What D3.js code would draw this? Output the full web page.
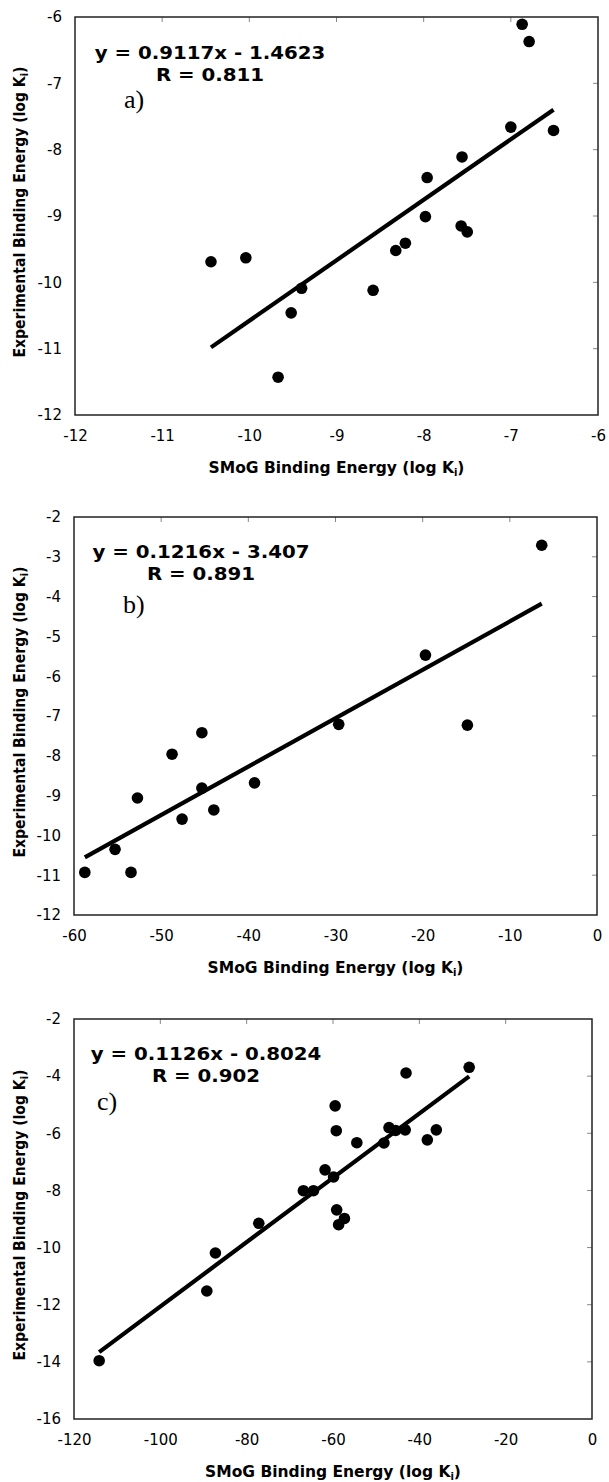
<!DOCTYPE html>
<meta charset="utf-8">
<style>
  body { margin: 0; background: #fff; }
  text { font-family: "DejaVu Sans", Verdana, sans-serif; fill: #000; }
  .lbl { font-size: 15px; }
  .title { font-size: 15.5px; font-weight: bold; }
  .ytitle { font-size: 14px; font-weight: bold; }
  .eq { font-size: 18px; font-weight: bold; }
  .tag { font-family: "Liberation Serif", "Times New Roman", serif; font-size: 26px; }
  .frame { fill: none; stroke: #222; stroke-width: 1.5px; }
  .fit { stroke: #000; stroke-width: 4.2px; }
  .mirror { stroke: #888; stroke-width: 1px; }
</style>
<body>
<script src="https://d3js.org/d3.v7.min.js"></script>
<script>

// a) values
var aX = [-6.87, -6.79, -7.00, -6.51, -7.56, -7.96, -7.98, -7.57, -7.50, -8.21, -8.32, -10.44, -10.04, -9.40, -9.52, -8.58, -9.67];
var aY = [-6.11, -6.37, -7.66, -7.71, -8.11, -8.42, -9.01, -9.15, -9.24, -9.41, -9.52, -9.69, -9.63, -10.09, -10.46, -10.12, -11.43];
var aXTicks = [-12, -11, -10, -9, -8, -7, -6];
var aYTicks = [-12, -11, -10, -9, -8, -7, -6];
var aFit = [0.9117, -1.4623];

// b)
var bX = [-6.34, -19.68, -29.63, -14.87, -45.33, -48.75, -52.72, -45.33, -39.29, -43.96, -47.60, -55.29, -58.76, -53.46];
var bY = [-2.71, -5.47, -7.21, -7.23, -7.42, -7.96, -9.06, -8.81, -8.68, -9.36, -9.59, -10.35, -10.93, -10.93];
var bXTicks = [-60, -50, -40, -30, -20, -10, 0];
var bYTicks = [-12, -11, -10, -9, -8, -7, -6, -5, -4, -3, -2];
var bFit = [0.1216, -3.407];

// c)
var cX = [-28.45, -43.08, -59.50, -59.24, -54.48, -47.02, -45.50, -43.27, -48.20, -38.15, -36.07, -61.84, -59.87, -66.86, -64.52, -59.15, -57.35, -58.70, -77.19, -87.24, -89.23, -114.17];
var cY = [-3.69, -3.89, -5.04, -5.91, -6.33, -5.80, -5.90, -5.88, -6.34, -6.23, -5.88, -7.28, -7.53, -8.01, -8.01, -8.68, -8.98, -9.20, -9.15, -10.19, -11.52, -13.96];
var cXTicks = [-120, -100, -80, -60, -40, -20, 0];
var cYTicks = [-16, -14, -12, -10, -8, -6, -4, -2];
var cFit = [0.1126, -0.8024];

var eqText = ["y = 0.9117x - 1.4623", "y = 0.1216x - 3.407", "y = 0.1126x - 0.8024"];
var rText = ["R = 0.811", "R = 0.891", "R = 0.902"];
var tags = ["a)", "b)", "c)"];

var panels = [
  {xs: aX, ys: aY, xt: aXTicks, yt: aYTicks, fit: aFit, box: [75, 598, 17, 415], eq: [210, 42, 64], tag: [124, 91]},
  {xs: bX, ys: bY, xt: bXTicks, yt: bYTicks, fit: bFit, box: [74, 597, 517, 915], eq: [201, 41, 63], tag: [123, 96]},
  {xs: cX, ys: cY, xt: cXTicks, yt: cYTicks, fit: cFit, box: [74, 592, 1019, 1419], eq: [206, 41, 63], tag: [97, 91]}
];

// plain hyphen for negatives, like the original
var fmt = function(d) { return String(d); };

var svg = d3.select("body").append("svg")
    .attr("width", 609)
    .attr("height", 1482);

function addKi(sel, label) {
  sel.append("tspan").text(label + " (log K");
  sel.append("tspan").attr("font-size", "10px").attr("dy", 3).text("i");
  sel.append("tspan").attr("dy", -3).text(")");
}

panels.forEach(function(p, k) {
  var l = p.box[0], r = p.box[1], t = p.box[2], b = p.box[3];
  var x = d3.scaleLinear().domain(d3.extent(p.xt)).range([l, r]);
  var y = d3.scaleLinear().domain(d3.extent(p.yt)).range([b, t]);
  var g = svg.append("g");

  // tick labels (no tick marks on left / bottom)
  g.append("g")
      .attr("transform", "translate(0," + (b + 15) + ")")
      .call(d3.axisBottom(x).tickValues(p.xt).tickSize(0).tickPadding(0).tickFormat(fmt))
      .call(function(a) { a.select(".domain").remove(); })
      .selectAll("text").attr("class", "lbl").attr("font-size", null).attr("font-family", null);

  g.append("g")
      .attr("transform", "translate(" + (l - 13) + ",0)")
      .call(d3.axisLeft(y).tickValues(p.yt).tickSize(0).tickPadding(0).tickFormat(fmt))
      .call(function(a) { a.select(".domain").remove(); })
      .selectAll("text").attr("class", "lbl").attr("font-size", null).attr("font-family", null);

  // inner mirror ticks on top and right edges
  g.selectAll(".mt").data(p.xt.slice(1, -1)).enter().append("line")
      .attr("class", "mirror")
      .attr("x1", function(d) { return x(d); }).attr("x2", function(d) { return x(d); })
      .attr("y1", t).attr("y2", t + 5);
  g.selectAll(".mr").data(p.yt.slice(1, -1)).enter().append("line")
      .attr("class", "mirror")
      .attr("x1", r).attr("x2", r - 5)
      .attr("y1", function(d) { return y(d); }).attr("y2", function(d) { return y(d); });

  g.append("rect").attr("class", "frame")
      .attr("x", l).attr("y", t).attr("width", r - l).attr("height", b - t);

  // trend line over data range
  var ext = d3.extent(p.xs);
  g.append("line").attr("class", "fit")
      .attr("x1", x(ext[0])).attr("y1", y(p.fit[0] * ext[0] + p.fit[1]))
      .attr("x2", x(ext[1])).attr("y2", y(p.fit[0] * ext[1] + p.fit[1]));

  g.selectAll("circle").data(p.xs).enter().append("circle")
      .attr("cx", function(d) { return x(d); })
      .attr("cy", function(d, i) { return y(p.ys[i]); })
      .attr("r", 5.8)
      .attr("fill", "#000");

  // equation text is a bit wide in the source figure
  g.append("text").attr("class", "eq")
      .attr("transform", "translate(" + p.eq[0] + "," + (t + p.eq[1]) + ") scale(1.1,1)")
      .attr("text-anchor", "middle").text(eqText[k]);
  g.append("text").attr("class", "eq")
      .attr("transform", "translate(" + p.eq[0] + "," + (t + p.eq[2]) + ") scale(1.1,1)")
      .attr("text-anchor", "middle").text(rText[k]);
  g.append("text").attr("class", "tag")
      .attr("x", p.tag[0]).attr("y", t + p.tag[1]).text(tags[k]);

  // axis titles
  addKi(g.append("text").attr("class", "title")
      .attr("x", (l + r) / 2).attr("y", b + 58)
      .attr("text-anchor", "middle"), "SMoG Binding Energy");

  addKi(g.append("text").attr("class", "ytitle")
      .attr("transform", "translate(25," + ((t + b) / 2 - 4) + ") scale(1.12,1) rotate(-90)")
      .attr("text-anchor", "middle"), "Experimental Binding Energy");
});

</script>
